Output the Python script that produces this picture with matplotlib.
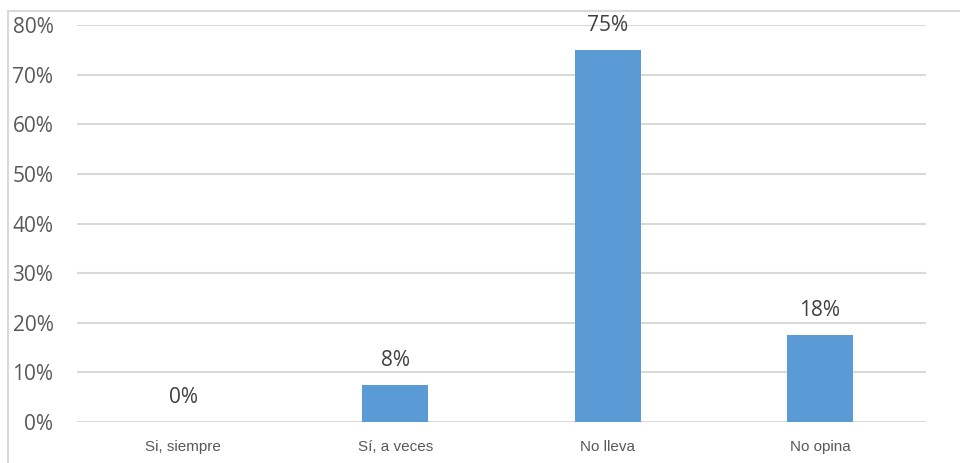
import matplotlib.pyplot as plt
from matplotlib.lines import Line2D
import numpy as np

categories = ['Si, siempre', 'Sí, a veces', 'No lleva', 'No opina']
values = [0.0, 7.5, 75.0, 17.5]
value_labels = ['0%', '8%', '75%', '18%']
y_ticks = [0, 10, 20, 30, 40, 50, 60, 70, 80]

fig = plt.figure(figsize=(9.6, 4.63), dpi=100)
ax = fig.add_axes([77 / 960, 1 - 422 / 463, (926 - 77) / 960, (422 - 25) / 463])

x = np.arange(len(categories))
bars = ax.bar(x, values, width=0.31, color='#5b9bd5', zorder=3)

for xi, v, lab in zip(x, values, value_labels):
    ax.text(xi, v + 2.8, lab, ha='center', va='bottom', fontsize=15,
            color='#404040', family='Open Sans')

ax.set_xlim(-0.5, len(categories) - 0.5)
ax.set_ylim(0, 80)
ax.set_yticks(y_ticks)
ax.set_yticklabels([f'{t}%' for t in y_ticks], fontsize=15, color='#595959',
                   family='Open Sans')
ax.set_xticks(x)
ax.set_xticklabels(categories, fontsize=11, color='#595959',
                   family=['Liberation Sans Narrow', 'Liberation Sans'])
ax.tick_params(axis='both', length=0)
ax.tick_params(axis='y', pad=17)
ax.tick_params(axis='x', pad=13)
ax.grid(axis='y', color='#d9d9d9', linewidth=1.5, zorder=0)
for s in ax.spines.values():
    s.set_visible(False)

# outer chart frame
fig.add_artist(Line2D([8 / 960, 8 / 960], [0, 1 - 11 / 463], transform=fig.transFigure,
                      color='#d9d9d9', linewidth=1.5))
fig.add_artist(Line2D([8 / 960, 1], [1 - 11 / 463, 1 - 11 / 463], transform=fig.transFigure,
                      color='#d9d9d9', linewidth=1.5))

fig.savefig('out.png', dpi=100)
